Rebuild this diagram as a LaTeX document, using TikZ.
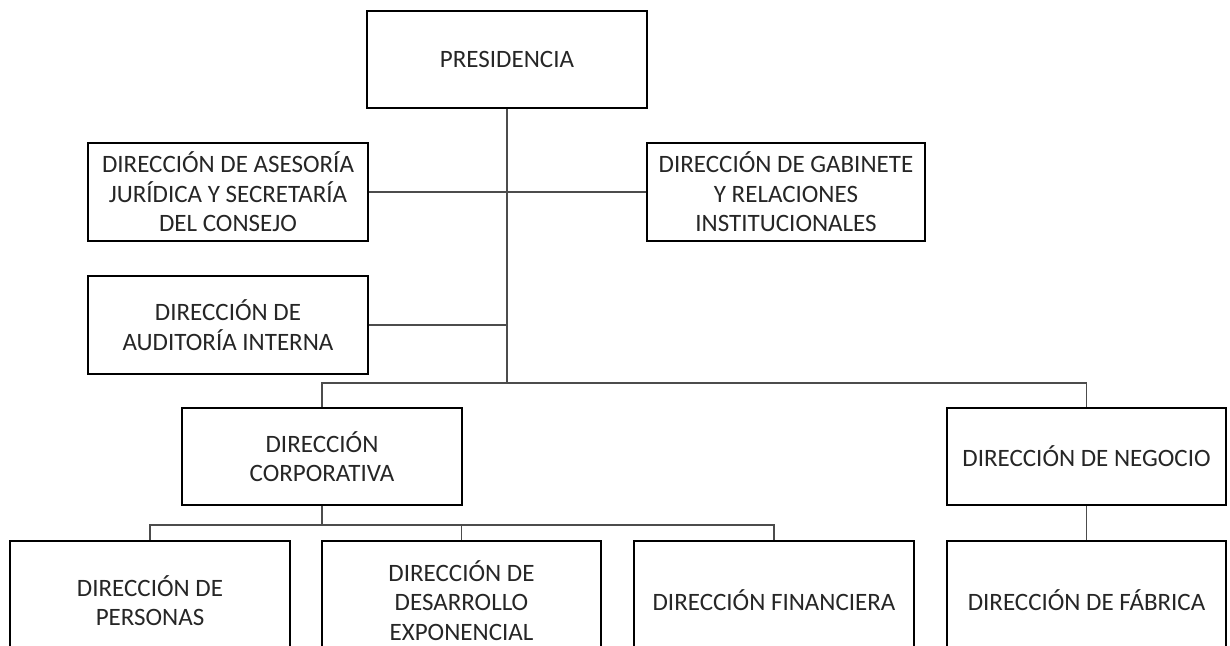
\documentclass[tikz,border=0pt]{standalone}
\usepackage{fontspec}
\setmainfont{Carlito}
\begin{document}
\begin{tikzpicture}[x=1pt,y=1pt,
  orgbox/.style={draw=black,line width=1.6pt,rectangle,inner sep=0pt,align=center,
    font=\fontsize{25}{29.5}\selectfont,text=black!85},
  link/.style={draw=black!70,line width=1.1pt}]
\path[use as bounding box,clip] (0,0) rectangle (1230,-645);
\fill[white] (0,0) rectangle (1230,-645);
% nodes
\node[orgbox,minimum width=280,minimum height=97] (pres) at (507,-59.5) {PRESIDENCIA};
\node[orgbox,minimum width=280,minimum height=98] (ases) at (228,-192) {DIRECCIÓN DE ASESORÍA\\JURÍDICA Y SECRETARÍA\\DEL CONSEJO};
\node[orgbox,minimum width=278,minimum height=98] (gab) at (786,-192) {DIRECCIÓN DE GABINETE\\Y RELACIONES\\INSTITUCIONALES};
\node[orgbox,minimum width=280,minimum height=98] (aud) at (228,-325) {DIRECCIÓN DE\\AUDITORÍA INTERNA};
\node[orgbox,minimum width=280,minimum height=97] (corp) at (322,-456.5) {DIRECCIÓN\\CORPORATIVA};
\node[orgbox,minimum width=279,minimum height=97] (neg) at (1086.5,-456.5) {DIRECCIÓN DE NEGOCIO};
\node[orgbox,minimum width=280,minimum height=119] (pers) at (150,-600.5) {DIRECCIÓN DE\\PERSONAS};
\node[orgbox,minimum width=279,minimum height=119] (desa) at (461.5,-600.5) {DIRECCIÓN DE\\DESARROLLO\\EXPONENCIAL};
\node[orgbox,minimum width=280,minimum height=119] (fin) at (774,-600.5) {DIRECCIÓN FINANCIERA};
\node[orgbox,minimum width=279,minimum height=119] (fab) at (1086.5,-600.5) {DIRECCIÓN DE FÁBRICA};
% junctions
\coordinate (j1) at (pres.south |- 0,-383);
\coordinate (jaud) at (pres.south |- aud.east);
\coordinate (j2) at (corp.south |- 0,-525);
% connectors
\draw[link] (pres.south) -- (j1);
\draw[link] (ases.east) -- (gab.west);
\draw[link] (aud.east) -- (jaud);
\draw[link] (corp.north) |- (j1) -| (neg.north);
\draw[link] (corp.south) -- (j2);
\draw[link] (pers.north) |- (j2) -| (fin.north);
\draw[link] (desa.north) -- (desa.north |- j2);
\draw[link] (neg.south) -- (fab.north);
\end{tikzpicture}
\end{document}
